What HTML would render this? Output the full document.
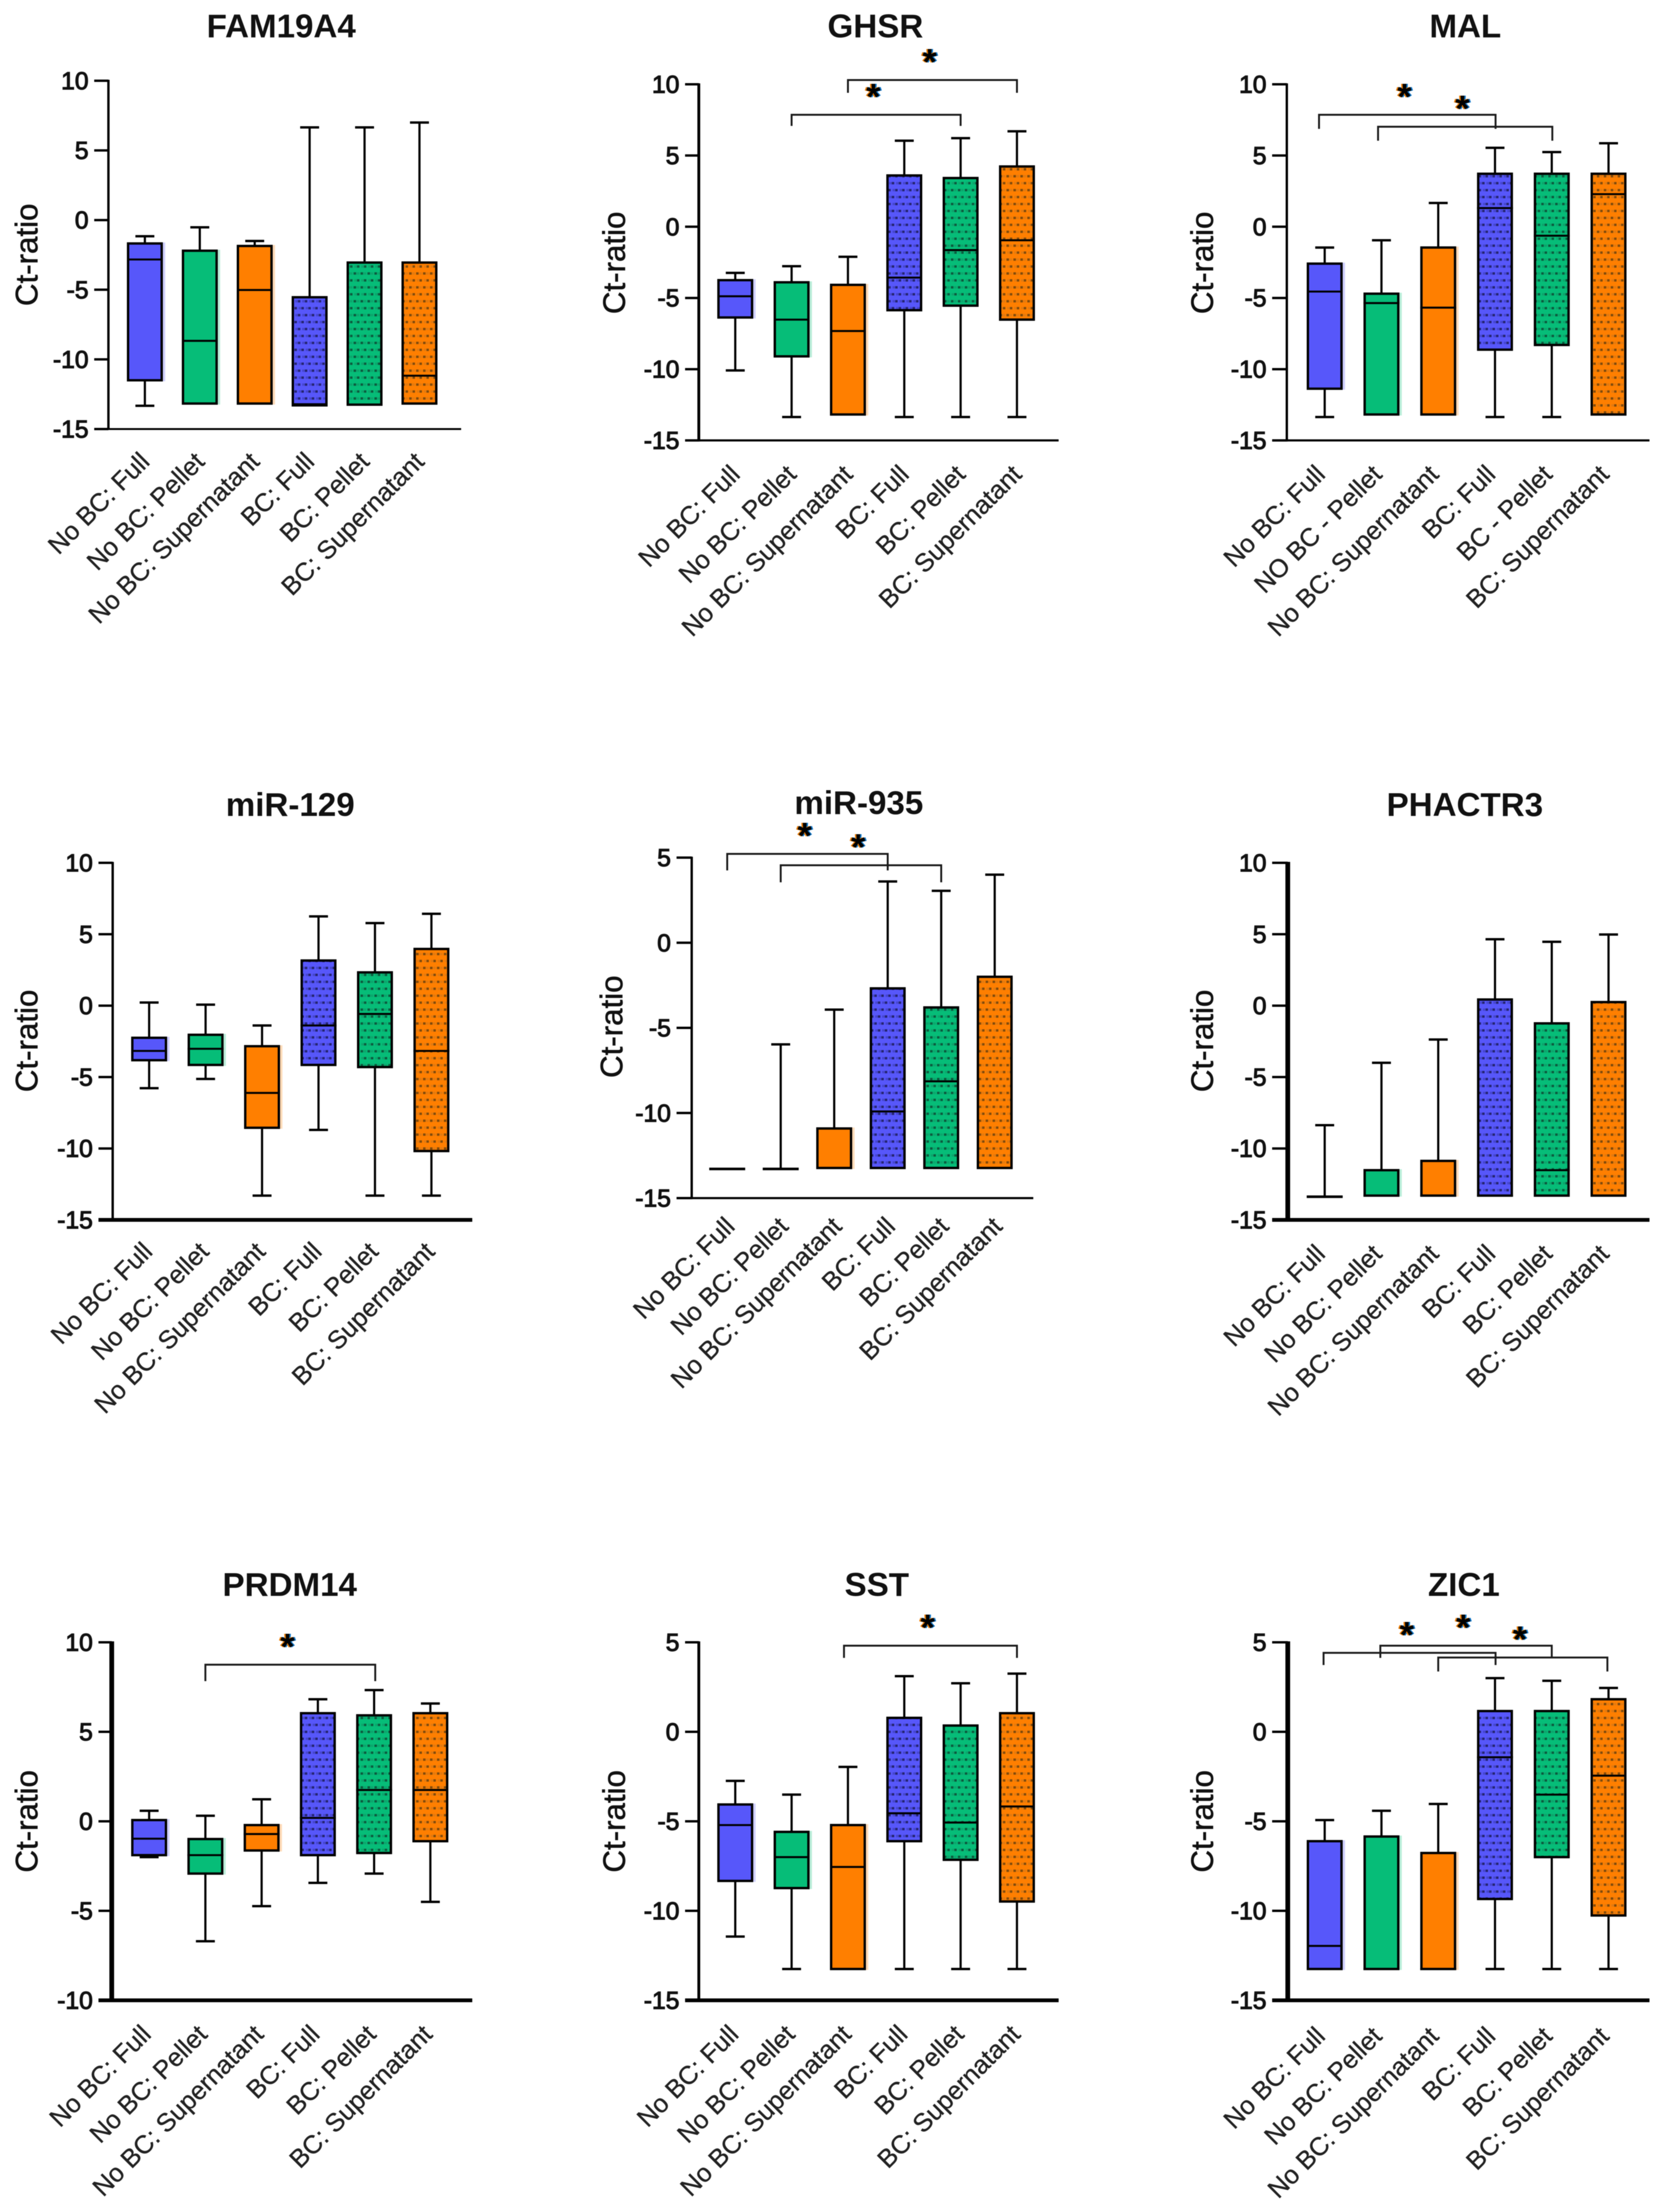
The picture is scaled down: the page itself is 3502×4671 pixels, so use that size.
<!DOCTYPE html>
<html lang="en">
<head>
<meta charset="utf-8">
<title>Ct-ratio box plots</title>
<style>
html,body{margin:0;padding:0;background:#fff;}
svg{display:block;filter:blur(0.9px);}
text{font-family:"Liberation Sans",Arial,sans-serif;fill:#111;}
.title{font-size:70px;font-weight:700;}
.tick{font-size:52px;stroke:#111;stroke-width:2px;}
.ytitle{font-size:66px;stroke:#111;stroke-width:1px;}
.cat{font-size:54px;fill:#222;stroke:#222;stroke-width:.7px;}
.star{font-size:78px;font-weight:700;fill:#000;text-shadow:-3px 0 #e87a00,3px 0 #0b72c4;}
</style>
</head>
<body>
<svg id="fig" xmlns="http://www.w3.org/2000/svg" width="3502" height="4671" viewBox="0 0 3502 4671">
<defs>
<pattern id="dot-0" patternUnits="userSpaceOnUse" width="14.67" height="29.33"><rect width="14.67" height="29.33" fill="#5757fa"/><rect x="0" y="3" width="11" height="5" fill="#4646d0"/><rect x="6" y="3" width="5" height="5" fill="#24246e"/><rect x="7.3" y="17.7" width="7.37" height="5" fill="#4646d0"/><rect x="13.3" y="17.7" width="1.37" height="5" fill="#24246e"/><rect x="0" y="17.7" width="3.6" height="5" fill="#24246e"/></pattern>
<pattern id="dot-1" patternUnits="userSpaceOnUse" width="14.67" height="29.33"><rect width="14.67" height="29.33" fill="#06bd78"/><rect x="0" y="3" width="11" height="5" fill="#0ca56c"/><rect x="6" y="3" width="5" height="5" fill="#0c5a3e"/><rect x="0" y="17.7" width="4" height="5" fill="#0c5a3e"/><rect x="5" y="17.7" width="6" height="5" fill="#0ca56c"/><rect x="13.3" y="17.7" width="1.37" height="5" fill="#0c5a3e"/></pattern>
<pattern id="dot-2" patternUnits="userSpaceOnUse" width="14.67" height="29.33"><rect width="14.67" height="29.33" fill="#ff7f00"/><rect x="0" y="3" width="11" height="5" fill="#e27a10"/><rect x="6" y="3" width="5" height="5" fill="#7f4a0c"/><rect x="0" y="17.7" width="4" height="5" fill="#7f4a0c"/><rect x="5" y="17.7" width="6" height="5" fill="#e27a10"/><rect x="13.3" y="17.7" width="1.37" height="5" fill="#7f4a0c"/></pattern>
</defs>
</svg>
<script>
// ---- category labels ----
const categoriesStandard = ["No BC: Full","No BC: Pellet","No BC: Supernatant","BC: Full","BC: Pellet","BC: Supernatant"];
const categoriesMal = ["No BC: Full","NO BC - Pellet","No BC: Supernatant","BC: Full","BC - Pellet","BC: Supernatant"];
const solidColors = ["#5757fa","#06bd78","#ff7f00"];

// ---- FAM19A4 ----
const famHigh   = [-1.16,-0.52,-1.5,6.65,6.65,7];
const famQ3     = [-1.68,-2.2,-1.86,-5.54,-3.05,-3.05];
const famMedian = [-2.83,-8.67,-5.02,-13.22,-13.25,-11.17];
const famQ1     = [-11.5,-13.17,-13.17,-13.3,-13.25,-13.17];
const famLow    = [-13.33,-13.17,-13.17,-13.3,-13.25,-13.17];
const famBrackets = [];
// ---- GHSR ----
const ghsrHigh   = [-3.24,-2.77,-2.11,6.04,6.22,6.7];
const ghsrQ3     = [-3.75,-3.9,-4.08,3.6,3.42,4.23];
const ghsrMedian = [-4.88,-6.52,-7.32,-3.57,-1.64,-0.95];
const ghsrQ1     = [-6.37,-9.1,-13.18,-5.86,-5.54,-6.52];
const ghsrLow    = [-10.09,-13.36,-13.18,-13.36,-13.36,-13.36];
const ghsrBrackets = [[1,4,7.86,7.08],[2,5,10.3,9.4]];
// ---- MAL ----
const malHigh   = [-1.46,-0.95,1.67,5.54,5.24,5.86];
const malQ3     = [-2.59,-4.7,-1.46,3.72,3.72,3.72];
const malMedian = [-4.55,-5.36,-5.68,1.31,-0.63,2.29];
const malQ1     = [-11.37,-13.18,-13.18,-8.63,-8.3,-13.18];
const malLow    = [-13.36,-13.18,-13.18,-13.36,-13.36,-13.18];
const malBrackets = [[-0.1,3.01,7.86,6.87],[0.94,4.01,7.02,6.04]];
// ---- miR-129 ----
const mir129High   = [0.22,0.07,-1.39,6.25,5.78,6.43];
const mir129Q3     = [-2.25,-2.04,-2.84,3.16,2.33,3.97];
const mir129Median = [-3.17,-3.02,-6.11,-1.39,-0.58,-3.17];
const mir129Q1     = [-3.82,-4.15,-8.55,-4.15,-4.3,-10.18];
const mir129Low    = [-5.78,-5.13,-13.3,-8.7,-13.3,-13.3];
const mir129Brackets = [];
// ---- miR-935 ----
const mir935High   = [-13.28,-5.97,-3.93,3.6,3.05,4];
const mir935Q3     = [-13.28,-13.28,-10.91,-2.68,-3.8,-2];
const mir935Median = [-13.28,-13.28,-13.23,-9.91,-8.14,-13.23];
const mir935Q1     = [-13.28,-13.28,-13.23,-13.23,-13.23,-13.23];
const mir935Low    = [-13.28,-13.28,-13.23,-13.23,-13.23,-13.23];
const mir935Brackets = [[0,3,5.22,4.25],[1,4,4.55,3.55]];
// ---- PHACTR3 ----
const phactrHigh   = [-8.37,-4,-2.37,4.65,4.47,4.98];
const phactrQ3     = [-13.37,-11.52,-10.87,0.43,-1.24,0.25];
const phactrMedian = [-13.37,-13.3,-13.3,-13.3,-11.52,-13.3];
const phactrQ1     = [-13.37,-13.3,-13.3,-13.3,-13.3,-13.3];
const phactrLow    = [-13.37,-13.3,-13.3,-13.3,-13.3,-13.3];
const phactrBrackets = [];
// ---- PRDM14 ----
const prdmHigh   = [0.59,0.31,1.23,6.82,7.33,6.58];
const prdmQ3     = [0.07,-0.99,-0.21,6.04,5.92,6.04];
const prdmMedian = [-0.97,-1.89,-0.71,0.19,1.75,1.75];
const prdmQ1     = [-1.89,-2.92,-1.63,-1.89,-1.77,-1.11];
const prdmLow    = [-2.0,-6.7,-4.74,-3.44,-2.92,-4.5];
const prdmBrackets = [[1,4.02,8.75,7.83]];
// ---- SST ----
const sstHigh   = [-2.74,-3.51,-1.96,3.11,2.71,3.25];
const sstQ3     = [-4.06,-5.59,-5.21,0.78,0.35,1.04];
const sstMedian = [-5.21,-7.0,-7.55,-4.55,-5.07,-4.17];
const sstQ1     = [-8.33,-8.73,-13.25,-6.11,-7.15,-9.48];
const sstLow    = [-11.44,-13.25,-13.25,-13.25,-13.25,-13.25];
const sstBrackets = [[1.93,5,4.81,4.13]];
// ---- ZIC1 ----
const zicHigh   = [-4.93,-4.41,-4.03,3,2.85,2.45];
const zicQ3     = [-6.11,-5.85,-6.77,1.16,1.16,1.82];
const zicMedian = [-11.96,-13.25,-13.25,-1.42,-3.51,-2.45];
const zicQ1     = [-13.25,-13.25,-13.25,-9.34,-7.0,-10.26];
const zicLow    = [-13.25,-13.25,-13.25,-13.25,-13.25,-13.25];
const zicBrackets = [[-0.02,3.01,4.41,3.73],[0.98,4,4.81,4.13],[2,4.98,4.15,3.37]];

// ---- axis ticks ----
const ticksWide  = [10,5,0,-5,-10,-15];
const ticksMid   = [5,0,-5,-10,-15];
const ticksPrdm  = [10,5,0,-5,-10];

// ---- panel series bindings ----
const panelSeries = [
  {title:"FAM19A4",cats:categoriesStandard,ticks:ticksWide,high:famHigh,q3:famQ3,median:famMedian,q1:famQ1,low:famLow,brackets:famBrackets},
  {title:"GHSR",cats:categoriesStandard,ticks:ticksWide,high:ghsrHigh,q3:ghsrQ3,median:ghsrMedian,q1:ghsrQ1,low:ghsrLow,brackets:ghsrBrackets},
  {title:"MAL",cats:categoriesMal,ticks:ticksWide,high:malHigh,q3:malQ3,median:malMedian,q1:malQ1,low:malLow,brackets:malBrackets},
  {title:"miR-129",cats:categoriesStandard,ticks:ticksWide,high:mir129High,q3:mir129Q3,median:mir129Median,q1:mir129Q1,low:mir129Low,brackets:mir129Brackets},
  {title:"miR-935",cats:categoriesStandard,ticks:ticksMid,high:mir935High,q3:mir935Q3,median:mir935Median,q1:mir935Q1,low:mir935Low,brackets:mir935Brackets},
  {title:"PHACTR3",cats:categoriesStandard,ticks:ticksWide,high:phactrHigh,q3:phactrQ3,median:phactrMedian,q1:phactrQ1,low:phactrLow,brackets:phactrBrackets},
  {title:"PRDM14",cats:categoriesStandard,ticks:ticksPrdm,high:prdmHigh,q3:prdmQ3,median:prdmMedian,q1:prdmQ1,low:prdmLow,brackets:prdmBrackets},
  {title:"SST",cats:categoriesStandard,ticks:ticksMid,high:sstHigh,q3:sstQ3,median:sstMedian,q1:sstQ1,low:sstLow,brackets:sstBrackets},
  {title:"ZIC1",cats:categoriesStandard,ticks:ticksMid,high:zicHigh,q3:zicQ3,median:zicMedian,q1:zicQ1,low:zicLow,brackets:zicBrackets}
];

// ---- panel geometry (layout only, no data) ----
const panelLayouts = [
  {ax:229,top:170.5,bot:906,xEnd:974,tl:199,c0:306,dx:116,yw:5,xw:4,tx:594,ty:54,ytx:56,yty:538,lox:13,loy:72},
  {ax:1476,top:178,bot:930,xEnd:2236,tl:1447,c0:1553,dx:119,yw:6,xw:4.5,tx:1849,ty:54,ytx:1297,yty:555,lox:13,loy:75},
  {ax:2718,top:178,bot:930,xEnd:3484,tl:2687,c0:2798,dx:119.9,yw:5,xw:4.5,tx:3095,ty:54,ytx:2539,yty:555,lox:4,loy:75},
  {ax:238,top:1822,bot:2576,xEnd:997.5,tl:208,c0:315,dx:119.25,yw:5,xw:8,tx:613,ty:1698,ytx:56,yty:2198,lox:10,loy:70},
  {ax:1461,top:1811,bot:2530,xEnd:2182.5,tl:1429,c0:1536,dx:113,yw:5,xw:4.5,tx:1814,ty:1694,ytx:1291.5,yty:2168,lox:19,loy:63},
  {ax:2720,top:1822,bot:2576,xEnd:3484,tl:2687,c0:2798,dx:119.9,yw:10,xw:8,tx:3094,ty:1698,ytx:2539,yty:2198,lox:4,loy:75},
  {ax:236,top:3468,bot:4224,xEnd:997.5,tl:208,c0:315,dx:118.8,yw:10,xw:8,tx:612,ty:3345,ytx:56,yty:3846,lox:7,loy:75},
  {ax:1476,top:3468,bot:4224,xEnd:2236,tl:1447,c0:1553,dx:119,yw:6,xw:8,tx:1852,ty:3345,ytx:1297,yty:3846,lox:10,loy:75},
  {ax:2720,top:3468,bot:4224,xEnd:3484,tl:2687,c0:2798,dx:119.9,yw:10,xw:8,tx:3092,ty:3345,ytx:2539,yty:3846,lox:4,loy:79}
];

const NS = "http://www.w3.org/2000/svg";
const fig = document.getElementById("fig");
function mk(parent, tag, attrs, txt){
  const n = document.createElementNS(NS, tag);
  for (const k in attrs) n.setAttribute(k, attrs[k]);
  if (txt !== undefined) n.textContent = txt;
  parent.appendChild(n);
  return n;
}
function ln(parent, x1, y1, x2, y2, w, col){
  return mk(parent, "line", {x1:x1, y1:y1, x2:x2, y2:y2, stroke:col || "#000", "stroke-width":w});
}
const BOX_W = 76, CAP_W = 40, STROKE = 5;

panelSeries.forEach(function(s, pi){
  const L = panelLayouts[pi];
  const slug = s.title.toLowerCase();
  const g = mk(fig, "g", {});
  
  
  const ymax = s.ticks[0], ymin = s.ticks[s.ticks.length - 1];
  const yScale = function(v){ return L.top + (ymax - v) / (ymax - ymin) * (L.bot - L.top); };
  const xScale = function(i){ return L.c0 + i * L.dx; };

  const title = mk(g, "text", {class:"title", x:L.tx, y:L.ty + 25, "text-anchor":"middle"}, s.title);
  
  

  const yt = mk(g, "text", {class:"ytitle", x:L.ytx + 23, y:L.yty, "text-anchor":"middle", transform:"rotate(-90 " + (L.ytx + 23) + " " + L.yty + ")"}, "Ct-ratio");
  
  

  const yAxis = ln(g, L.ax, L.top - 2, L.ax, L.bot + L.xw / 2, L.yw);
  
  
  const xAxis = ln(g, L.tl, L.bot, L.xEnd, L.bot, L.xw);
  
  

  s.ticks.forEach(function(t){
    const yy = yScale(t);
    const tm = ln(g, L.tl, yy, L.ax, yy, 5);
    
    
    const tl = mk(g, "text", {class:"tick", x:L.tl - 12, y:yy + 18, "text-anchor":"end"}, String(t));
    
    
  });

  s.cats.forEach(function(c, i){
    const cx = xScale(i);
    const lx = cx + L.lox, ly = L.bot + L.loy;
    const cl = mk(g, "text", {class:"cat", x:lx, y:ly, "text-anchor":"end", transform:"rotate(-45 " + lx + " " + ly + ")"}, c);
    
    

    const box = mk(g, "g", {});
    
    
    const yHigh = yScale(s.high[i]), yQ3 = yScale(s.q3[i]), yMed = yScale(s.median[i]), yQ1 = yScale(s.q1[i]), yLow = yScale(s.low[i]);
    const isDotted = i >= 3;
    const fill = isDotted ? "url(#dot-" + (i - 3) + ")" : solidColors[i];
    if (yHigh < yQ3 - 0.5) {
      ln(box, cx, yHigh, cx, yQ3, 4.6);
      ln(box, cx - CAP_W / 2, yHigh, cx + CAP_W / 2, yHigh, 5);
    }
    if (yLow > yQ1 + 0.5) {
      ln(box, cx, yQ1, cx, yLow, 4.6);
      ln(box, cx - CAP_W / 2, yLow, cx + CAP_W / 2, yLow, 5);
    }
    const rectH = Math.max(yQ1 - yQ3, 0.5);
    if (!isDotted && rectH > 1) {
      mk(box, "rect", {x:cx + BOX_W / 2 - 1, y:yQ3 - 2, width:6, height:rectH + 4, fill:solidColors[i], opacity:0.28});
    }
    mk(box, "rect", {x:cx - (BOX_W - STROKE) / 2, y:yQ3, width:BOX_W - STROKE, height:rectH, fill:fill, stroke:"#000", "stroke-width":STROKE});
    ln(box, cx - BOX_W / 2, yMed, cx + BOX_W / 2, yMed, 4.2);
  });

  s.brackets.forEach(function(b){
    const x1 = xScale(b[0]), x2 = xScale(b[1]), yb = yScale(b[2]), yf = yScale(b[3]);
    const br = mk(g, "path", {d:"M" + x1 + " " + yf + "V" + yb + "H" + x2 + "V" + yf, fill:"none", stroke:"#1a1a1a", "stroke-width":4});
    
    
    const st = mk(g, "text", {class:"star", x:(x1 + x2) / 2 - 6, y:yb - 12, "text-anchor":"middle"}, "*");
    
    
  });
});
</script>
</body>
</html>
